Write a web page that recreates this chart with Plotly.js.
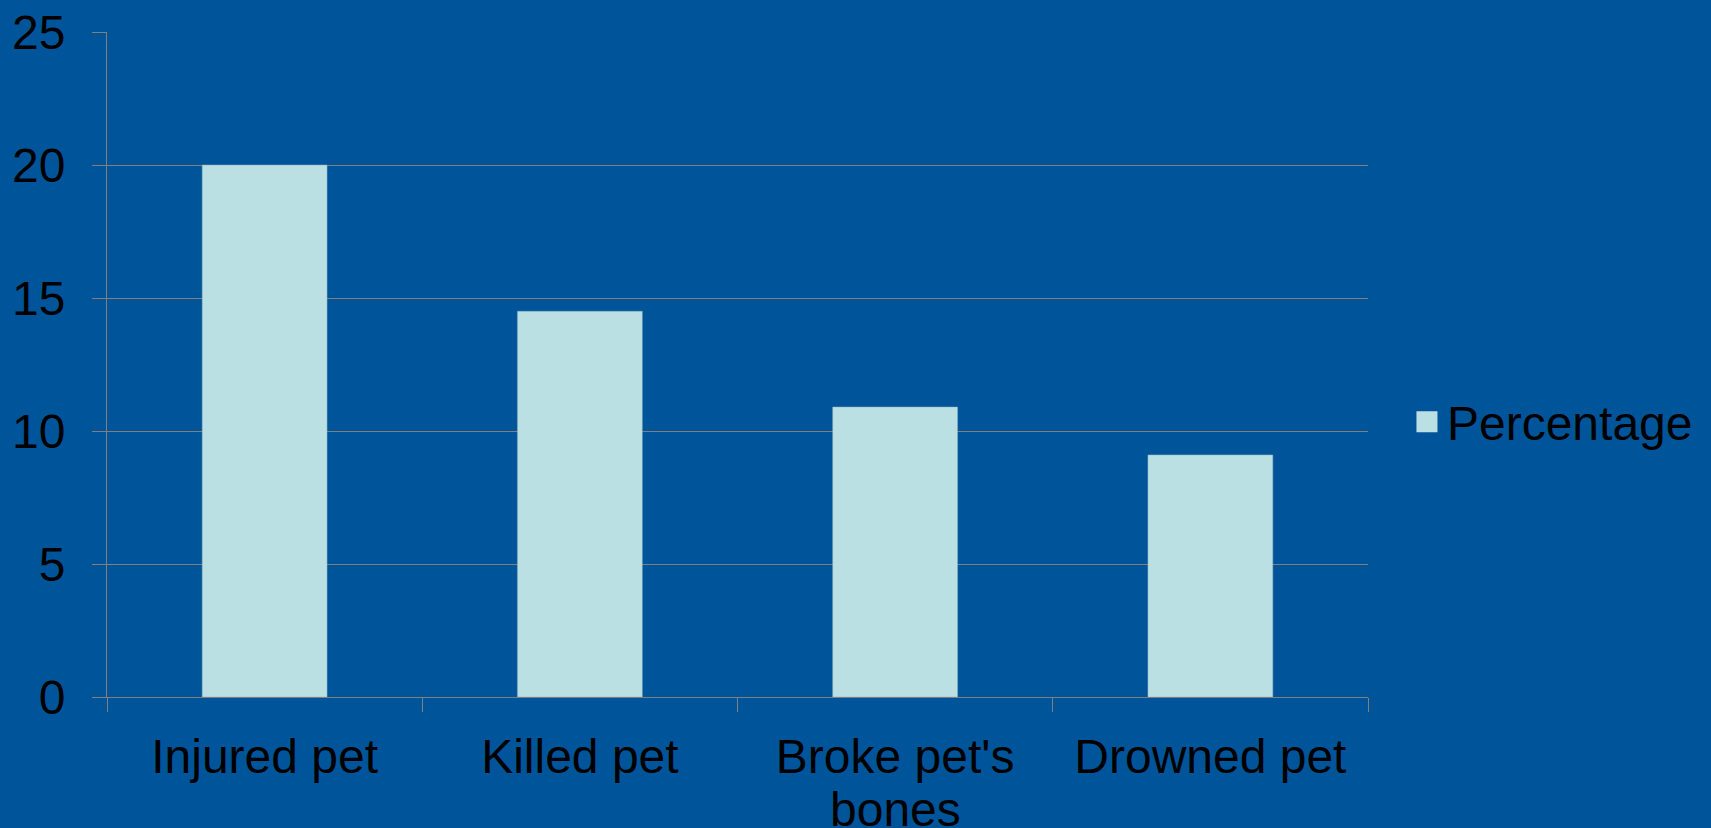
<!DOCTYPE html>
<html>
<head>
<meta charset="utf-8">
<script src="https://cdn.plot.ly/plotly-3.0.1.min.js"></script>
<style>html,body{margin:0;padding:0;background:#00559A;}#chart{width:1711px;height:828px;}</style>
</head>
<body>
<div id="chart"></div>
<script>
var categories = ["Injured pet", "Killed pet", "Broke pet's bones", "Drowned pet"];
var tickLines1 = ["Injured pet", "Killed pet", "Broke pet's", "Drowned pet"];
var tickLines2 = ["", "", "bones", ""];
var seriesName = "Percentage";
var values = [20, 14.5, 10.9, 9.1];
var yTicks = [0, 5, 10, 15, 20, 25];

var bg = "#00559A";
var barColor = "#BBE0E3";
var lineColor = "#7F7F7F";
var font = {family: "Liberation Sans, Arial, sans-serif", size: 48, color: "#000000"};

var data = [{
  type: "bar",
  x: categories,
  y: values,
  name: seriesName,
  marker: {color: barColor, line: {color: "#8FB3BF", width: 0.5}},
  showlegend: false,
  legendgroup: "p",
  hoverinfo: "x+y"
}, {
  // legend entry for the bar series (larger swatch)
  type: "scatter",
  mode: "markers",
  x: [categories[0]],
  y: [null],
  name: seriesName,
  legendgroup: "p",
  showlegend: true,
  marker: {symbol: "square", size: 16, color: barColor, line: {color: barColor, width: 5}},
  hoverinfo: "skip"
}];

var annotations = [];
for (var i = 0; i < categories.length; i++) {
  if (tickLines2[i]) {
    annotations.push({
      x: categories[i], xref: "x", y: -0.127, yref: "paper",
      yanchor: "top", xanchor: "center",
      text: tickLines2[i], showarrow: false, font: font
    });
  }
}

var layout = {
  width: 1711, height: 828,
  paper_bgcolor: bg, plot_bgcolor: bg,
  font: font,
  margin: {l: 106.5, r: 343, t: 31.5, b: 131, pad: 0, autoexpand: false},
  bargap: 0.604,
  showlegend: true,
  legend: {xref: "container", yref: "container", x: 0.8223, xanchor: "left", y: 0.4903, yanchor: "middle",
           bgcolor: "rgba(0,0,0,0)", font: {family: font.family, size: 48, color: "#000"}},
  xaxis: {
    type: "category",
    categoryarray: categories, categoryorder: "array",
    tickvals: categories, ticktext: tickLines1,
    showline: true, linecolor: lineColor, linewidth: 1,
    ticks: "outside", ticklen: 14, tickcolor: lineColor, tickwidth: 1,
    tickson: "boundaries",
    showgrid: false, zeroline: false,
    tickfont: font,
    ticklabelstandoff: 17
  },
  yaxis: {
    range: [0, 25],
    tickvals: yTicks,
    ticktext: yTicks.map(String),
    showline: true, linecolor: lineColor, linewidth: 1,
    ticks: "outside", ticklen: 14, tickcolor: lineColor, tickwidth: 1,
    showgrid: true, gridcolor: lineColor, gridwidth: 1,
    zeroline: false,
    tickfont: font,
    ticklabelstandoff: 17
  },
  annotations: annotations
};

Plotly.newPlot("chart", data, layout, {displayModeBar: false, staticPlot: true});
</script>
</body>
</html>
